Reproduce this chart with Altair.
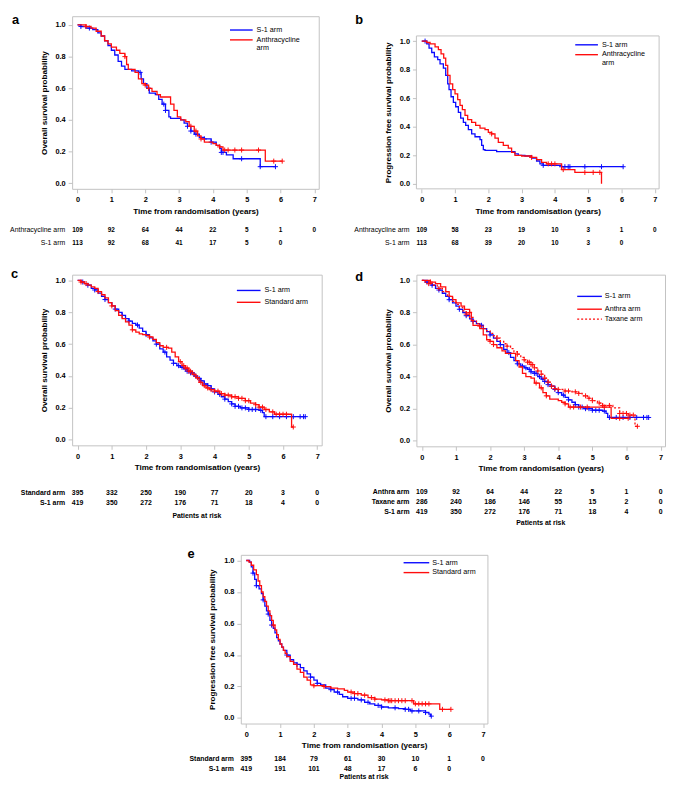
import altair as alt
import pandas as pd

# ---------------- data ----------------
A_S1 = [(0,1.0),(0.1,0.99),(0.25,0.98),(0.45,0.97),(0.6,0.95),(0.7,0.93),(0.8,0.90),(0.9,0.87),(1.0,0.84),(1.1,0.81),
        (1.2,0.77),(1.3,0.74),(1.4,0.72),(1.6,0.71),(1.8,0.70),(1.88,0.66),(1.95,0.63),(2.05,0.60),(2.12,0.57),(2.3,0.56),
        (2.4,0.53),(2.5,0.50),(2.6,0.46),(2.7,0.42),(2.75,0.41),(3.05,0.40),(3.15,0.38),(3.25,0.36),(3.35,0.33),(3.45,0.31),
        (3.6,0.29),(3.75,0.28),(3.95,0.26),(4.1,0.24),(4.2,0.22),(4.25,0.195),(4.4,0.18),(4.6,0.155),(5.4,0.105),(5.85,0.105)]
A_S1_C = [0.1,0.35,1.85,2.1,2.55,2.6,3.25,3.35,3.5,3.75,3.95,4.25,4.3,4.85,5.4,5.85]
A_ANT = [(0,1.0),(0.25,0.99),(0.4,0.98),(0.55,0.96),(0.7,0.93),(0.8,0.90),(0.9,0.88),(1.0,0.86),(1.15,0.84),(1.25,0.82),
         (1.4,0.80),(1.45,0.75),(1.5,0.72),(1.7,0.70),(1.8,0.66),(1.9,0.63),(2.0,0.62),(2.1,0.60),(2.2,0.58),(2.35,0.56),
         (2.45,0.545),(2.75,0.50),(2.85,0.46),(2.95,0.42),(3.05,0.40),(3.2,0.39),(3.3,0.36),(3.45,0.33),(3.55,0.30),(3.65,0.28),
         (3.75,0.26),(4.0,0.25),(4.1,0.24),(4.2,0.23),(4.3,0.21),(5.55,0.14),(6.05,0.14)]
A_ANT_C = [0.25,1.4,2.0,2.1,3.35,3.5,3.65,4.2,4.35,4.45,4.65,4.85,5.35,5.8,6.05]

B_S1 = [(0,1.0),(0.15,0.98),(0.22,0.95),(0.3,0.92),(0.38,0.89),(0.48,0.87),(0.55,0.84),(0.65,0.81),(0.72,0.76),(0.78,0.70),
        (0.82,0.66),(0.88,0.61),(0.95,0.57),(1.02,0.54),(1.1,0.50),(1.17,0.46),(1.25,0.43),(1.32,0.41),(1.4,0.38),(1.5,0.35),
        (1.6,0.33),(1.75,0.31),(1.8,0.27),(1.85,0.24),(1.9,0.235),(2.25,0.225),(2.8,0.21),(2.9,0.20),(3.1,0.195),(3.3,0.18),
        (3.45,0.16),(3.55,0.14),(3.65,0.13),(4.2,0.12),(6.05,0.12)]
B_S1_C = [0.1,3.65,4.2,4.3,4.4,4.45,4.9,5.4,6.05]
B_ANT = [(0,1.0),(0.15,0.99),(0.25,0.98),(0.4,0.96),(0.5,0.94),(0.58,0.91),(0.66,0.88),(0.72,0.83),(0.78,0.76),(0.85,0.70),
         (0.93,0.66),(1.0,0.63),(1.08,0.59),(1.15,0.55),(1.22,0.52),(1.3,0.48),(1.38,0.45),(1.5,0.43),(1.62,0.41),(1.75,0.39),
         (1.9,0.38),(2.0,0.36),(2.1,0.35),(2.2,0.32),(2.3,0.29),(2.45,0.27),(2.6,0.25),(2.7,0.22),(2.8,0.20),(3.0,0.195),
         (3.3,0.185),(3.45,0.17),(3.6,0.15),(3.75,0.14),(4.2,0.10),(4.6,0.08),(5.4,0.0)]
B_ANT_C = [2.1,3.3,3.8,3.9,4.0,4.25,4.9,5.15,5.35]

C_S1 = [(0,1.0),(0.1,0.99),(0.2,0.98),(0.3,0.97),(0.4,0.95),(0.5,0.94),(0.6,0.92),(0.7,0.90),(0.8,0.88),(0.9,0.86),
        (1.0,0.84),(1.1,0.82),(1.2,0.80),(1.3,0.78),(1.4,0.76),(1.5,0.745),(1.6,0.73),(1.7,0.72),(1.8,0.70),(1.9,0.68),
        (2.0,0.66),(2.1,0.64),(2.2,0.62),(2.3,0.60),(2.4,0.57),(2.5,0.55),(2.6,0.52),(2.7,0.50),(2.8,0.48),(2.9,0.465),
        (3.0,0.455),(3.1,0.445),(3.2,0.43),(3.3,0.42),(3.4,0.40),(3.5,0.385),(3.6,0.37),(3.7,0.35),(3.8,0.34),(3.9,0.32),
        (4.0,0.30),(4.1,0.285),(4.2,0.27),(4.3,0.255),(4.4,0.24),(4.5,0.225),(4.6,0.21),(4.75,0.20),(5.0,0.19),(5.3,0.185),
        (5.4,0.17),(5.45,0.145),(6.65,0.145)]
C_S1_C = [0.15,0.3,0.5,0.8,1.1,1.3,1.5,1.75,2.0,2.3,2.55,2.8,2.95,3.05,3.15,3.2,3.3,3.35,3.45,3.55,3.6,3.7,3.8,3.9,
          4.0,4.15,4.3,4.5,4.6,4.7,4.8,4.9,5.0,5.1,5.2,5.35,5.5,5.7,5.9,6.1,6.3,6.5,6.6,6.65]
C_STD = [(0,1.0),(0.1,0.99),(0.2,0.98),(0.3,0.97),(0.4,0.96),(0.5,0.95),(0.6,0.93),(0.7,0.91),(0.8,0.89),(0.9,0.86),
         (1.0,0.84),(1.1,0.81),(1.2,0.78),(1.3,0.76),(1.4,0.74),(1.5,0.72),(1.6,0.69),(1.7,0.675),(1.8,0.665),(1.9,0.66),
         (2.0,0.655),(2.1,0.645),(2.2,0.63),(2.3,0.61),(2.4,0.59),(2.5,0.58),(2.65,0.575),(2.75,0.55),(2.85,0.52),(2.95,0.49),
         (3.05,0.465),(3.15,0.45),(3.25,0.43),(3.35,0.41),(3.45,0.39),(3.55,0.36),(3.65,0.34),(3.75,0.325),(3.85,0.315),(4.0,0.305),
         (4.15,0.29),(4.3,0.28),(4.5,0.27),(4.7,0.26),(4.9,0.245),(5.05,0.23),(5.2,0.22),(5.3,0.205),(5.45,0.19),(5.6,0.175),
         (5.75,0.16),(6.25,0.08),(6.3,0.08)]
C_STD_C = [0.1,0.25,0.6,1.0,1.6,2.1,2.6,3.0,3.1,3.15,3.2,3.25,3.3,3.4,3.5,3.6,3.7,3.8,3.9,4.0,4.1,4.2,4.3,4.4,4.5,
           4.6,4.7,4.8,4.9,5.0,5.2,5.3,5.4,5.5,5.7,5.8,5.9,6.0,6.1,6.3]

D_TAX = [(0,1.0),(0.1,0.99),(0.2,0.98),(0.3,0.97),(0.45,0.95),(0.6,0.93),(0.75,0.90),(0.9,0.87),(1.0,0.85),(1.1,0.83),
         (1.2,0.81),(1.3,0.79),(1.4,0.77),(1.5,0.75),(1.6,0.73),(1.7,0.715),(1.8,0.70),(1.9,0.685),(2.0,0.67),(2.1,0.655),
         (2.2,0.64),(2.3,0.62),(2.4,0.605),(2.5,0.59),(2.6,0.575),(2.7,0.555),(2.8,0.54),(2.9,0.52),(3.0,0.505),(3.1,0.49),
         (3.2,0.475),(3.3,0.455),(3.4,0.435),(3.5,0.415),(3.6,0.39),(3.7,0.365),(3.8,0.34),(3.9,0.325),(4.0,0.32),(4.2,0.31),
         (4.4,0.305),(4.6,0.295),(4.7,0.28),(4.85,0.265),(5.0,0.25),(5.15,0.235),(5.3,0.22),(5.6,0.205),(5.8,0.17),(6.05,0.16),
         (6.25,0.09),(6.32,0.09)]
D_TAX_C = [0.2,0.5,1.3,1.7,2.2,2.5,2.8,3.0,3.1,3.15,3.2,3.25,3.3,3.4,3.5,3.6,3.7,3.8,3.9,4.0,4.2,4.3,4.5,4.6,4.8,4.9,
           5.0,5.2,5.3,5.5,5.8,5.9,6.0,6.1,6.2,6.32]

E_S1 = [(0,1.0),(0.1,0.99),(0.15,0.96),(0.2,0.92),(0.25,0.88),(0.3,0.84),(0.38,0.82),(0.45,0.79),(0.5,0.75),(0.55,0.71),
        (0.6,0.68),(0.65,0.66),(0.7,0.62),(0.75,0.59),(0.8,0.57),(0.85,0.54),(0.9,0.51),(0.95,0.49),(1.0,0.47),(1.05,0.45),
        (1.1,0.43),(1.2,0.40),(1.3,0.37),(1.4,0.35),(1.5,0.34),(1.6,0.32),(1.7,0.30),(1.8,0.28),(1.9,0.26),(2.0,0.24),
        (2.1,0.22),(2.2,0.21),(2.35,0.19),(2.5,0.18),(2.6,0.165),(2.75,0.15),(2.85,0.135),(3.0,0.125),(3.3,0.115),(3.5,0.10),
        (3.65,0.09),(3.8,0.08),(4.0,0.07),(4.2,0.065),(4.5,0.06),(4.7,0.055),(4.85,0.045),(5.3,0.035),(5.4,0.025),(5.45,0.012),
        (5.47,0.012)]
E_S1_C = [0.2,0.3,0.5,0.65,0.75,1.2,1.5,1.9,2.1,2.5,2.7,3.1,3.2,3.4,3.6,3.9,4.0,4.4,4.7,4.8,4.9,5.1,5.3,5.47]
E_STD = [(0,1.0),(0.08,0.99),(0.15,0.97),(0.22,0.94),(0.3,0.91),(0.35,0.87),(0.4,0.84),(0.45,0.80),(0.5,0.77),(0.55,0.74),
         (0.6,0.71),(0.65,0.68),(0.7,0.65),(0.75,0.62),(0.8,0.59),(0.85,0.56),(0.9,0.53),(0.95,0.50),(1.0,0.47),(1.05,0.45),
         (1.1,0.43),(1.15,0.41),(1.2,0.39),(1.3,0.36),(1.4,0.34),(1.5,0.31),(1.6,0.29),(1.7,0.26),(1.8,0.24),(1.9,0.21),
         (2.0,0.205),(2.3,0.20),(2.5,0.19),(2.7,0.185),(2.9,0.175),(3.0,0.165),(3.2,0.155),(3.4,0.145),(3.6,0.13),(3.8,0.12),
         (4.0,0.115),(4.2,0.11),(4.95,0.09),(5.72,0.055),(6.05,0.055)]
E_STD_C = [0.8,2.0,2.3,3.1,3.2,3.3,3.5,3.7,3.8,4.1,4.2,4.25,4.3,4.4,4.5,4.6,4.7,4.9,5.0,5.1,5.2,5.3,5.4,5.8,6.05]

RISK_A = [("Anthracycline arm", [109, 92, 64, 44, 22, 5, 1, 0]), ("S-1 arm", [113, 92, 68, 41, 17, 5, 0])]
RISK_B = [("Anthracycline arm", [109, 58, 23, 19, 10, 3, 1, 0]), ("S-1 arm", [113, 68, 39, 20, 10, 3, 0])]
RISK_C = [("Standard arm", [395, 332, 250, 190, 77, 20, 3, 0]), ("S-1 arm", [419, 350, 272, 176, 71, 18, 4, 0])]
RISK_D = [("Anthra arm", [109, 92, 64, 44, 22, 5, 1, 0]), ("Taxane arm", [286, 240, 186, 146, 55, 15, 2, 0]),
          ("S-1 arm", [419, 350, 272, 176, 71, 18, 4, 0])]
RISK_E = [("Standard arm", [395, 184, 79, 61, 30, 10, 1, 0]), ("S-1 arm", [419, 191, 101, 48, 17, 6, 0])]

X_TICKS = [0, 1, 2, 3, 4, 5, 6, 7]
Y_TICKS = [0.0, 0.2, 0.4, 0.6, 0.8, 1.0]

# ---------------- styling ----------------
BLUE = "#0a0aff"
RED = "#ff0d0d"
GRAY = "#c2c2c2"
FONT = "Liberation Sans"
XDOM = [-0.16, 7.13]
DUMMY = pd.DataFrame({"k": [0]})


def step_at(curve, t):
    v = curve[0][1]
    for tt, ss in curve:
        if tt <= t:
            v = ss
        else:
            break
    return v


def panel(curves, ylabel, width, height, ydom, letter, letter_xy, legend, leg_right, leg_ys,
          risk, risk_offs, num_fs, lab_bold, patients_off=None, ytop=0):
    xenc = alt.X("t:Q", scale=alt.Scale(domain=XDOM, nice=False, zero=False),
                 axis=alt.Axis(values=X_TICKS, format="d", title="Time from randomisation (years)", domain=False,
                               grid=False, tickColor=GRAY, tickSize=4, labelFontSize=7.5, labelFontWeight="bold",
                               labelColor="black", titleColor="black", titleFontSize=8.2, titleFontWeight="bold",
                               labelPadding=3, titlePadding=4))
    yscale = alt.Scale(domain=ydom, nice=False, zero=False)
    if ytop:
        yscale = alt.Scale(domain=ydom, nice=False, zero=False, range=[height, ytop])
    yenc = alt.Y("s:Q", scale=yscale,
                 axis=alt.Axis(values=Y_TICKS, format=".1f", title=ylabel, domain=False, grid=False,
                               tickColor=GRAY, tickSize=4, labelFontSize=7.5, labelFontWeight="bold",
                               labelColor="black", titleColor="black", titleFontSize=8.2, titleFontWeight="bold",
                               labelPadding=3, titlePadding=7))
    km = []
    for curve, cens, color, dash in curves:
        df = pd.DataFrame({"t": [p[0] for p in curve], "s": [p[1] for p in curve]})
        kw = dict(interpolate="step-after", color=color, strokeWidth=1.3)
        if dash:
            kw["strokeDash"] = dash
        km.append(alt.Chart(df).mark_line(**kw).encode(x=xenc, y=yenc))
        cdf = pd.DataFrame({"t": cens, "s": [step_at(curve, c) for c in cens]})
        km.append(alt.Chart(cdf).mark_point(shape="M-1,0H1M0,-1V1", size=26, filled=False,
                                           strokeWidth=1, color=color, opacity=1).encode(x=xenc, y=yenc))
    km_layer = alt.layer(*km)

    # risk table below the plot, on its own point scale
    recs = []
    for name, counts in risk:
        for i, n in enumerate(counts):
            recs.append({"arm": name, "t": i, "n": n})
    order = [r[0] for r in risk]
    yr = alt.Y("arm:N", sort=order, axis=None,
               scale=alt.Scale(type="point", padding=0, range=[height + risk_offs[0], height + risk_offs[1]]))
    nums = alt.Chart(pd.DataFrame(recs)).mark_text(fontSize=num_fs, fontWeight="bold", align="center",
                                                   baseline="middle", color="black", font=FONT).encode(
        x=xenc, y=yr, text=alt.Text("n:Q", format="d"))
    labs = alt.Chart(pd.DataFrame({"arm": order})).mark_text(
        fontSize=7, fontWeight="bold" if lab_bold else "normal", align="right", baseline="middle",
        color="black", font=FONT).encode(x=alt.value(-7), y=yr, text="arm:N")
    risk_layer = alt.layer(nums, labs)

    extras = []
    if ytop:
        extras.append(alt.Chart(DUMMY).mark_rect(fillOpacity=0, stroke=GRAY, strokeWidth=1).encode(
            x=alt.value(0), x2=alt.value(width), y=alt.value(ytop), y2=alt.value(height)))
    r0, r1, rt = leg_right
    for (label, color, dash), yv in zip(legend, leg_ys):
        kw = dict(color=color, strokeWidth=1.4)
        if dash:
            kw["strokeDash"] = dash
        extras.append(alt.Chart(DUMMY).mark_rule(**kw).encode(
            x=alt.value(width - r0), x2=alt.value(width - r1), y=alt.value(ytop + yv)))
        extras.append(alt.Chart(DUMMY).mark_text(align="left", baseline="top", fontSize=7.3, lineHeight=8.5,
                                                 lineBreak="\n", color="black", font=FONT).encode(
            x=alt.value(width - rt), y=alt.value(ytop + yv - 4.2), text=alt.value(label)))
    extras.append(alt.Chart(DUMMY).mark_text(align="left", baseline="alphabetic", fontSize=13,
                                             fontWeight="bold", color="black", font=FONT).encode(
        x=alt.value(letter_xy[0]), y=alt.value(letter_xy[1]), text=alt.value(letter)))
    if patients_off is not None:
        extras.append(alt.Chart(DUMMY).mark_text(align="center", baseline="middle", fontSize=7,
                                                 fontWeight="bold", color="black", font=FONT).encode(
            x=alt.value(width / 2), y=alt.value(height + patients_off), text=alt.value("Patients at risk")))

    view = alt.ViewBackground(stroke=None) if ytop else alt.ViewBackground(stroke=GRAY, strokeWidth=1)
    return alt.layer(km_layer, risk_layer, *extras).resolve_scale(y="independent").properties(
        width=width, height=height, view=view)


def spacer(w, h):
    return alt.Chart(DUMMY).mark_point(opacity=0).encode(x=alt.value(0), y=alt.value(0)).properties(
        width=w, height=h, view=alt.ViewBackground(stroke=None))


YD = [-0.035, 1.036]

pa = panel([(A_S1, A_S1_C, BLUE, None), (A_ANT, A_ANT_C, RED, None)], "Overall survival probability",
           250, 175, [-0.035, 1.055], "a", (-61, 8),
           [("S-1 arm", BLUE, None), ("Anthracycline\narm", RED, None)], (90, 67, 63), [14, 24],
           RISK_A, (42, 55), 6.5, False)

pb = panel([(B_S1, B_S1_C, BLUE, None), (B_ANT, B_ANT_C, RED, None)], "Progression free survival probability",
           246, 175, YD, "b", (-62, 8),
           [("S-1 arm", BLUE, None), ("Anthracycline\narm", RED, None)], (85, 62, 58), [9, 19],
           RISK_B, (42, 55), 6.5, False, None, 20)

pc = panel([(C_S1, C_S1_C, BLUE, None), (C_STD, C_STD_C, RED, None)], "Overall survival probability",
           253, 173, YD, "c", (-62, 3),
           [("S-1 arm", BLUE, None), ("Standard arm", RED, None)], (86, 62, 58), [16, 28],
           RISK_C, (48, 58.5), 7, True, 72)

pd_ = panel([(C_S1, C_S1_C, BLUE, None), (A_ANT, A_ANT_C, RED, None), (D_TAX, D_TAX_C, RED, [2, 2])],
            "Overall survival probability", 252, 174, YD, "d", (-62, 6),
            [("S-1 arm", BLUE, None), ("Anthra arm", RED, None), ("Taxane arm", RED, [2, 2])],
            (89, 64, 61), [22, 35, 45],
            RISK_D, (46, 67), 7, True, 78)

pe = panel([(E_S1, E_S1_C, BLUE, None), (E_STD, E_STD_C, RED, None)], "Progression free survival probability",
           250, 171, YD, "e", (-54, 3),
           [("S-1 arm", BLUE, None), ("Standard arm", RED, None)], (85, 59, 56), [8, 18],
           RISK_E, (36, 46), 7, True, 54)

row1 = alt.hconcat(pa, pb, spacing=34)
row2 = alt.hconcat(pc, pd_, spacing=32)
row3 = alt.hconcat(spacer(116, 1), pe, spacing=0)

chart = alt.vconcat(row1, row2, row3, spacing=20).properties(
    padding={"left": 1, "top": 0, "right": 0, "bottom": 0}
).configure(font=FONT).configure_view(stroke=None)

chart.save("out.html", embed_options={"renderer": "svg", "actions": False})
